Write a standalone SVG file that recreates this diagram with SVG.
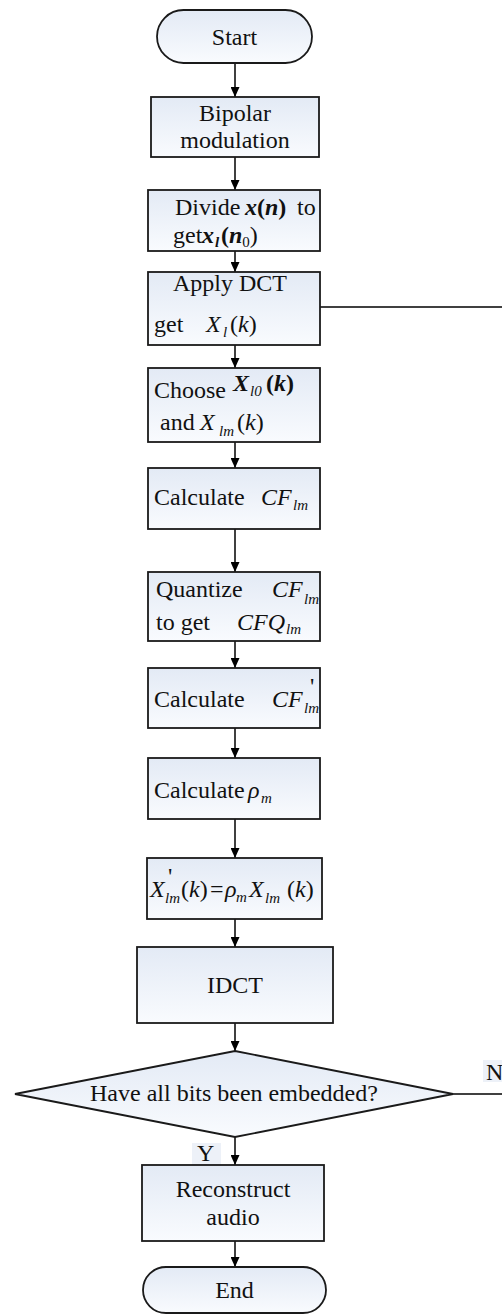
<svg xmlns="http://www.w3.org/2000/svg" width="502" height="1315" viewBox="0 0 502 1315">
<defs>
<linearGradient id="g" x1="0" y1="0" x2="0" y2="1">
<stop offset="0" stop-color="#e3eaf5"/>
<stop offset="1" stop-color="#f9fbfe"/>
</linearGradient>
<marker id="ah" markerUnits="userSpaceOnUse" markerWidth="11" markerHeight="9" refX="10" refY="4.5" orient="auto">
<path d="M0,0 L10,4.5 L0,9 z" fill="#000"/>
</marker>
<style>
.n{fill:url(#g);stroke:#1a1a1a;stroke-width:1.8}
.t{font-family:"Liberation Serif","Times New Roman",serif;font-size:24px;fill:#111}
.i{font-style:italic}
.b{font-weight:bold;font-style:italic}
.s{font-size:15px;font-style:italic}
.c{stroke:#000;stroke-width:1.5;fill:none}
.a{marker-end:url(#ah)}
.lb{fill:#edf1f8}
</style>
</defs>
<g id="connectors">
<line class="c a" x1="235" y1="63" x2="235" y2="97"/>
<line class="c a" x1="235" y1="157" x2="235" y2="190"/>
<line class="c a" x1="235" y1="251" x2="235" y2="272"/>
<line class="c a" x1="235" y1="345" x2="235" y2="368"/>
<line class="c a" x1="235" y1="442" x2="235" y2="468"/>
<line class="c a" x1="235" y1="529" x2="235" y2="572"/>
<line class="c a" x1="235" y1="641" x2="235" y2="668"/>
<line class="c a" x1="235" y1="728" x2="235" y2="758"/>
<line class="c a" x1="235" y1="819" x2="235" y2="858"/>
<line class="c a" x1="235" y1="919" x2="235" y2="947"/>
<line class="c a" x1="235" y1="1023" x2="235" y2="1051"/>
<line class="c a" x1="235" y1="1137" x2="235" y2="1165"/>
<line class="c a" x1="235" y1="1241" x2="235" y2="1267"/>
<line class="c" x1="320" y1="307" x2="502" y2="307"/>
<line class="c" x1="453" y1="1094" x2="502" y2="1094"/>
<rect class="lb" x="483" y="1060" width="19" height="22"/>
<text class="t" x="486" y="1080">N</text>
<rect class="lb" x="192" y="1143" width="29" height="22"/>
<text class="t" x="197" y="1161">Y</text>
</g>
<g id="start">
<rect class="n" x="157" y="10" width="155" height="53" rx="26.5"/>
<text class="t" x="234.5" y="45" text-anchor="middle">Start</text>
</g>
<g id="bipolar">
<rect class="n" x="151" y="97" width="168" height="60"/>
<text class="t" x="235" y="121" text-anchor="middle">Bipolar</text>
<text class="t" x="235" y="148" text-anchor="middle">modulation</text>
</g>
<g id="divide">
<rect class="n" x="148" y="190" width="172" height="61"/>
<text class="t" x="175" y="215">Divide <tspan class="b" x="245">x</tspan><tspan font-weight="bold">(</tspan><tspan class="b">n</tspan><tspan font-weight="bold">)</tspan><tspan x="297">to</tspan></text>
<text class="t" x="173" y="243">get<tspan class="b" x="202">x</tspan><tspan class="s" font-weight="bold" x="215" dy="4">l</tspan><tspan font-weight="bold" x="221" dy="-4">(</tspan><tspan class="b">n</tspan><tspan font-size="15" dy="4">0</tspan><tspan dy="-4">)</tspan></text>
</g>
<g id="dct">
<rect class="n" x="148" y="272" width="172" height="73"/>
<text class="t" x="173" y="291">Apply DCT</text>
<text class="t" x="154" y="332">get<tspan class="i" x="206">X</tspan><tspan class="s" x="223" dy="5">l</tspan><tspan x="230" dy="-5">(</tspan><tspan class="i">k</tspan>)</text>
</g>
<g id="choose">
<rect class="n" x="148" y="368" width="172" height="74"/>
<text class="t" x="154" y="398">Choose</text>
<text class="t" x="233" y="391"><tspan class="b">X</tspan><tspan class="s" x="250" dy="5">l0</tspan><tspan font-weight="bold" x="266" dy="-5">(</tspan><tspan class="b">k</tspan><tspan font-weight="bold">)</tspan></text>
<text class="t" x="160" y="430">and<tspan class="i" x="200">X</tspan><tspan class="s" x="219" dy="6">lm</tspan><tspan x="237" dy="-6">(</tspan><tspan class="i">k</tspan>)</text>
</g>
<g id="calc-cf">
<rect class="n" x="148" y="468" width="172" height="61"/>
<text class="t" x="154" y="505">Calculate<tspan class="i" x="261">CF</tspan><tspan class="s" x="293" dy="5">lm</tspan></text>
</g>
<g id="quantize">
<rect class="n" x="148" y="572" width="172" height="69"/>
<text class="t" x="156" y="597">Quantize<tspan class="i" x="272">CF</tspan><tspan class="s" x="304" dy="7">lm</tspan></text>
<text class="t" x="156" y="630">to get<tspan class="i" x="237">CFQ</tspan><tspan class="s" x="286" dy="4">lm</tspan></text>
</g>
<g id="calc-cfp">
<rect class="n" x="148" y="668" width="172" height="60"/>
<text class="t" x="154" y="707">Calculate<tspan class="i" x="272">CF</tspan><tspan class="s" x="304" dy="6">lm</tspan></text>
<text class="t" x="310" y="694" font-size="12">'</text>
</g>
<g id="calc-rho">
<rect class="n" x="148" y="758" width="172" height="61"/>
<text class="t" x="154" y="798">Calculate<tspan class="i" x="248">ρ</tspan><tspan class="s" x="261" dy="5">m</tspan></text>
</g>
<g id="scale">
<rect class="n" x="147" y="858" width="175" height="61"/>
<text class="t" x="150" y="897"><tspan class="i">X</tspan><tspan class="s" x="165" dy="6">lm</tspan><tspan x="181" dy="-6">(</tspan><tspan class="i">k</tspan>)<tspan x="210">=</tspan><tspan class="i" x="225">ρ</tspan><tspan class="s" x="236" dy="5">m</tspan><tspan class="i" x="249" dy="-5">X</tspan><tspan class="s" x="265" dy="6">lm</tspan><tspan x="287" dy="-6">(</tspan><tspan class="i">k</tspan>)</text>
<text class="t" x="168" y="884" font-size="12">'</text>
</g>
<g id="idct">
<rect class="n" x="137" y="947" width="196" height="76"/>
<text class="t" x="235" y="993" text-anchor="middle">IDCT</text>
</g>
<g id="decision">
<polygon class="n" points="235,1051 453,1094 235,1137 15,1094"/>
<text class="t" x="90" y="1101">Have  all bits  been embedded?</text>
</g>
<g id="reconstruct">
<rect class="n" x="142" y="1165" width="182" height="76"/>
<text class="t" x="233" y="1197" text-anchor="middle">Reconstruct</text>
<text class="t" x="233" y="1225" text-anchor="middle">audio</text>
</g>
<g id="end">
<rect class="n" x="143" y="1267" width="183" height="46" rx="23"/>
<text class="t" x="234.5" y="1298" text-anchor="middle">End</text>
</g>
</svg>
